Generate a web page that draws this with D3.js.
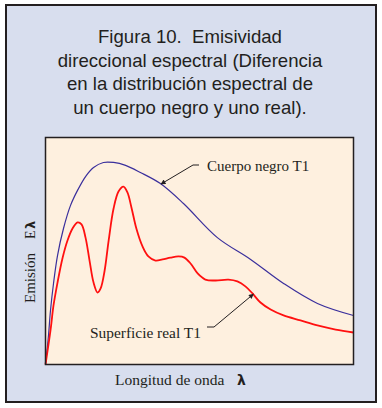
<!DOCTYPE html>
<html>
<head>
<meta charset="utf-8">
<script src="https://cdn.jsdelivr.net/npm/d3@7"></script>
<style>
  html, body { margin: 0; padding: 0; background: #ffffff; }
  svg { display: block; }
</style>
</head>
<body>
<script>
// ---- data (wavelength in arbitrary units, emission normalised) ----
const titleLines = [
  "Figura 10.  Emisividad",
  "direccional espectral (Diferencia",
  "en la distribución espectral de",
  "un cuerpo negro y uno real)."
];
const blackbodyX = [0, 0.097, 0.162, 0.26, 0.39, 0.584, 0.81, 1.04, 1.30, 1.56, 1.88, 2.21, 2.60, 3.08, 3.73, 4.48, 5.58, 6.66, 7.73, 8.83, 10];
const blackbodyY = [0, 0.128, 0.238, 0.357, 0.48, 0.599, 0.70, 0.767, 0.828, 0.868, 0.89, 0.89, 0.877, 0.846, 0.797, 0.709, 0.559, 0.463, 0.357, 0.269, 0.216];
const realX = [0, 0.162, 0.26, 0.39, 0.55, 0.714, 0.877, 1.04, 1.17, 1.30, 1.43, 1.56, 1.69, 1.79, 1.92, 2.05, 2.21, 2.37, 2.53, 2.66, 2.79, 2.95, 3.15, 3.34, 3.57, 3.80, 4.06, 4.32, 4.51, 4.71, 4.94, 5.19, 5.52, 5.94, 6.23, 6.49, 6.72, 6.98, 7.31, 7.73, 8.28, 8.83, 9.42, 10];
const realY = [0, 0.150, 0.26, 0.361, 0.467, 0.546, 0.599, 0.626, 0.617, 0.559, 0.458, 0.361, 0.317, 0.335, 0.414, 0.546, 0.687, 0.762, 0.784, 0.758, 0.692, 0.599, 0.520, 0.476, 0.458, 0.463, 0.471, 0.476, 0.471, 0.445, 0.401, 0.374, 0.370, 0.374, 0.366, 0.344, 0.313, 0.273, 0.242, 0.216, 0.194, 0.172, 0.154, 0.141];
const seriesNames = ["Cuerpo negro T1", "Superficie real T1"];
const xLabel = "Longitud de onda";
const yLabel = "Emisión";
const symbolE = "E";
const symbolLambda = "λ";

// ---- layout ----
const W = 382, H = 408;
const plot = { left: 45.5, top: 137.5, right: 353.5, bottom: 364.5 };

const svg = d3.select("body").append("svg").attr("width", W).attr("height", H);

// outer panel
svg.append("rect").attr("x", 6).attr("y", 5).attr("width", 370).attr("height", 397)
  .attr("fill", "#d8deee").attr("stroke", "#231f20").attr("stroke-width", 2);

// title
const title = svg.append("text")
  .attr("font-family", "'Liberation Sans', Arial, sans-serif")
  .attr("font-size", 18.6).attr("fill", "#231f20").attr("text-anchor", "middle")
  .style("white-space", "pre");
titleLines.forEach((t, i) => {
  title.append("tspan").attr("x", 190).attr("y", 43 + i * 23.5).text(t);
});

// scales
const x = d3.scaleLinear().domain([0, 10]).range([plot.left, plot.right]);
const y = d3.scaleLinear().domain([0, 1]).range([plot.bottom, plot.top]);

// plot background
svg.append("rect").attr("x", plot.left).attr("y", plot.top)
  .attr("width", plot.right - plot.left).attr("height", plot.bottom - plot.top)
  .attr("fill", "#fef0df");

const line = d3.line().x(d => x(d[0])).y(d => y(d[1])).curve(d3.curveCatmullRom.alpha(0.5));
const bb = blackbodyX.map((v, i) => [v, blackbodyY[i]]);
const rl = realX.map((v, i) => [v, realY[i]]);

svg.append("path").attr("d", line(bb)).attr("fill", "none")
  .attr("stroke", "#3a2f9c").attr("stroke-width", 1.2);
svg.append("path").attr("d", line(rl)).attr("fill", "none")
  .attr("stroke", "#ff1010").attr("stroke-width", 1.8);

// plot frame
svg.append("rect").attr("x", plot.left).attr("y", plot.top)
  .attr("width", plot.right - plot.left).attr("height", plot.bottom - plot.top)
  .attr("fill", "none").attr("stroke", "#231f20").attr("stroke-width", 1.5);

// arrow marker
svg.append("defs").append("marker").attr("id", "arr")
  .attr("viewBox", "0 0 10 10").attr("refX", 9).attr("refY", 5)
  .attr("markerWidth", 7).attr("markerHeight", 5).attr("orient", "auto")
  .attr("markerUnits", "userSpaceOnUse")
  .append("path").attr("d", "M0,0 L10,5 L0,10 z").attr("fill", "#231f20");

// annotations (anchored on data points via scales)
const serif = "'Liberation Serif', 'Times New Roman', serif";
const bbPt = [3.75, 0.795];
const rlPt = [6.75, 0.31];
svg.append("path")
  .attr("d", `M${x(bbPt[0]) + 38},165 L${x(bbPt[0]) + 32},165 L${x(bbPt[0])},${y(bbPt[1])}`)
  .attr("fill", "none").attr("stroke", "#231f20").attr("stroke-width", 1)
  .attr("marker-end", "url(#arr)");
svg.append("text").attr("x", 207).attr("y", 171).attr("font-family", serif)
  .attr("font-size", 15).attr("fill", "#231f20").text(seriesNames[0]);

svg.append("path")
  .attr("d", `M207,327 L214,327 L${x(rlPt[0])},${y(rlPt[1])}`)
  .attr("fill", "none").attr("stroke", "#231f20").attr("stroke-width", 1)
  .attr("marker-end", "url(#arr)");
svg.append("text").attr("x", 90).attr("y", 338).attr("font-family", serif)
  .attr("font-size", 15.4).attr("fill", "#231f20").text(seriesNames[1]);

// axis labels
const xl = svg.append("text").attr("x", 115).attr("y", 385).attr("font-family", serif)
  .attr("font-size", 15.5).attr("fill", "#231f20");
xl.append("tspan").text(xLabel);
xl.append("tspan").attr("x", 237).attr("font-family", "'DejaVu Sans', sans-serif")
  .attr("font-weight", "bold").attr("font-size", 14).text(symbolLambda);

const yl = svg.append("text").attr("transform", "translate(35,303) rotate(-90)")
  .attr("font-family", serif).attr("font-size", 15).attr("fill", "#231f20");
yl.append("tspan").attr("x", 0).text(yLabel);
yl.append("tspan").attr("x", 64).attr("font-size", 14).text(symbolE);
yl.append("tspan").attr("x", 74).attr("font-family", "'DejaVu Sans', sans-serif")
  .attr("font-weight", "bold").attr("font-size", 13).text(symbolLambda);
</script>
</body>
</html>
